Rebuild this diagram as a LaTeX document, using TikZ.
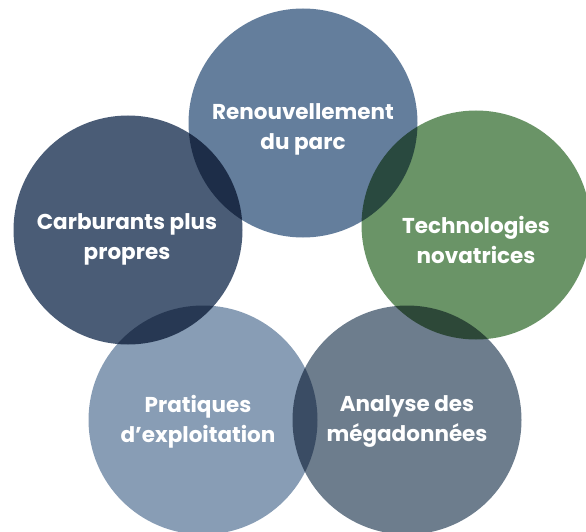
\documentclass[tikz,border=0pt]{standalone}
\usepackage{fontspec}
\setmainfont{Poppins}
\usetikzlibrary{shapes}
\definecolor{cparc}{HTML}{647E9C}
\definecolor{ccarb}{HTML}{4A5C76}
\definecolor{ctech}{HTML}{6A9467}
\definecolor{cdata}{HTML}{6D7D8D}
\definecolor{cprat}{HTML}{889DB5}
\begin{document}
\begin{tikzpicture}[x=1pt,y=-1pt,
  bubble/.style={circle,minimum size=229pt,inner sep=0pt},
  lbl/.style={font=\bfseries\fontsize{21.5}{30}\selectfont,text=white,align=center}]
  \useasboundingbox (0,0) rectangle (586,532);
  \begin{scope}[blend group=multiply]
  \node[bubble,fill=cparc] (parc) at (303,123) {};
  \node[bubble,fill=ccarb] (carb) at (128,230) {};
  \node[bubble,fill=ctech] (tech) at (476,225) {};
  \node[bubble,fill=cprat] (prat) at (203,420) {};
  \node[bubble,fill=cdata] (data) at (407,420) {};
  \end{scope}
  \node[lbl] (parct) at (303,129) {Renouvellement\\du parc};
  \node[lbl] (carbt) at (127,239) {Carburants plus\\propres};
  \node[lbl] (techt) at (476,240) {Technologies\\novatrices};
  \node[lbl] (pratt) at (198,422) {Pratiques\\d’exploitation};
  \node[lbl] (datat) at (407,421) {Analyse des\\mégadonnées};
\end{tikzpicture}
\end{document}
